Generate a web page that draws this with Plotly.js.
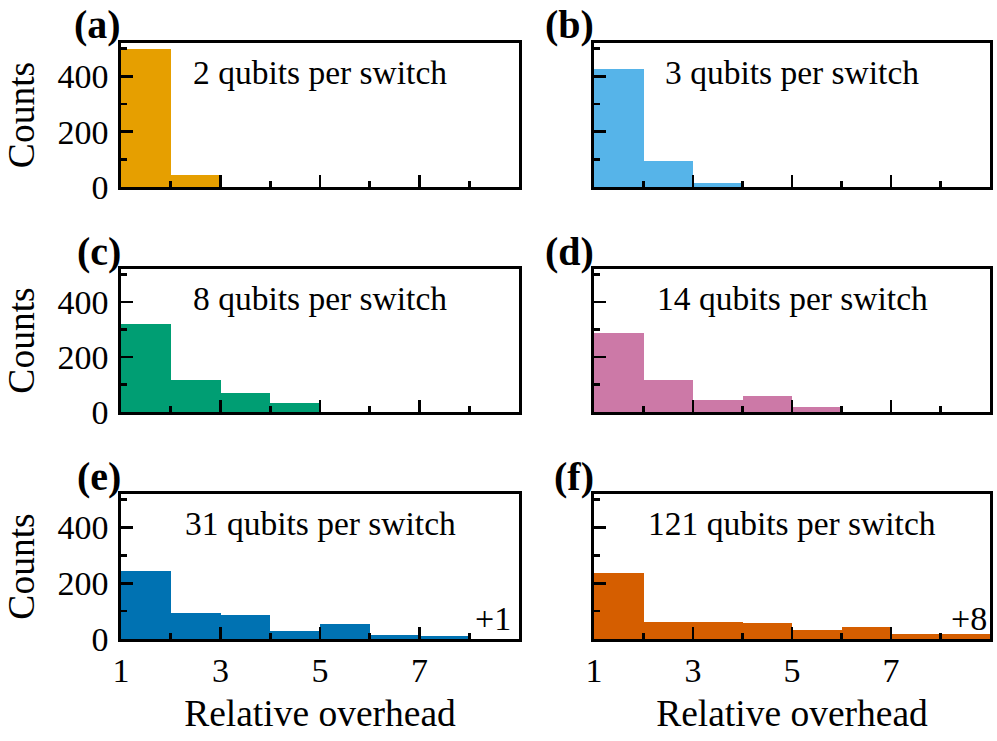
<!DOCTYPE html>
<html>
<head>
<meta charset="utf-8">
<script src="https://cdn.plot.ly/plotly-3.0.1.min.js"></script>
<style>html,body{margin:0;padding:0;background:#fff;}#chart{width:997px;height:741px;}</style>
</head>
<body>
<div id="chart"></div>
<script>
// Bin left edges (relative overhead), width 1
const binStarts = [1, 2, 3, 4, 5, 6, 7, 8];
// Counts per bin
const countsA = [497, 43];
const countsB = [426, 94, 16];
const countsC = [320, 115, 68, 32];
const countsD = [289, 115, 44, 60, 17];
const countsE = [245, 95, 85, 29, 53, 16, 12];
const countsF = [237, 62, 62, 56, 34, 42, 19, 18];
const panelLabels = ['(a)', '(b)', '(c)', '(d)', '(e)', '(f)'];
const panelTitles = ['2 qubits per switch', '3 qubits per switch', '8 qubits per switch',
                     '14 qubits per switch', '31 qubits per switch', '121 qubits per switch'];
const overflowLabels = ['', '', '', '', '+1', '+8'];
const colors = ['#E69F00', '#56B4E9', '#009E73', '#CC79A7', '#0072B2', '#D55E00'];
const xTickVals = [1, 3, 5, 7];
const yTickVals = [0, 200, 400];

const allCounts = [countsA, countsB, countsC, countsD, countsE, countsF];
const W = 997, H = 741;
const colPx = [[121, 519], [594, 990]];
const rowPx = [[43, 187], [269, 412], [494, 639]];

const FONT = '"Liberation Serif", "Times New Roman", serif';
const traces = [];
const layout = {
  width: W, height: H,
  margin: {l: 0, r: 0, t: 0, b: 0},
  paper_bgcolor: '#fff', plot_bgcolor: '#fff',
  showlegend: false,
  bargap: 0,
  font: {family: FONT, color: '#000', size: 34},
  annotations: []
};

allCounts.forEach((counts, i) => {
  const row = Math.floor(i / 2), col = i % 2;
  const n = i + 1;
  const xa = n === 1 ? 'x' : 'x' + n;
  const ya = n === 1 ? 'y' : 'y' + n;
  traces.push({
    type: 'bar',
    x: binStarts.slice(0, counts.length),
    y: counts,
    width: 1,
    offset: 0,
    xaxis: xa, yaxis: ya,
    marker: {color: colors[i], line: {width: 0}},
    hoverinfo: 'x+y'
  });
  const xd = [colPx[col][0] / W, colPx[col][1] / W];
  const yd = [1 - rowPx[row][1] / H, 1 - rowPx[row][0] / H];
  const bottomRow = row === 2, leftCol = col === 0;
  layout[n === 1 ? 'xaxis' : 'xaxis' + n] = {
    domain: xd, anchor: ya, range: [1, 9],
    showgrid: false, zeroline: false,
    showline: true, mirror: true, linecolor: '#000', linewidth: 2.6,
    ticks: 'inside', ticklen: 12, tickwidth: 2.6, tickcolor: '#000',
    tickmode: 'array', tickvals: xTickVals,
    minor: {tickmode: 'linear', tick0: 0, dtick: 1, ticks: 'inside', ticklen: 6, tickwidth: 2.6, tickcolor: '#000'},
    showticklabels: bottomRow,
    tickfont: {family: FONT, size: 34, color: '#000'},
    title: bottomRow ? {text: 'Relative overhead', font: {family: FONT, size: 37.5, color: '#000'}, standoff: 12} : {text: ''},
    fixedrange: true
  };
  layout[n === 1 ? 'yaxis' : 'yaxis' + n] = {
    domain: yd, anchor: xa, range: [0, 520],
    showgrid: false, zeroline: false,
    showline: true, mirror: true, linecolor: '#000', linewidth: 2.6,
    ticks: 'inside', ticklen: 12, tickwidth: 2.6, tickcolor: '#000',
    tickmode: 'array', tickvals: yTickVals,
    minor: {tickmode: 'linear', tick0: 0, dtick: 100, ticks: 'inside', ticklen: 6, tickwidth: 2.6, tickcolor: '#000'},
    showticklabels: leftCol,
    ticklabelstandoff: 3,
    tickfont: {family: FONT, size: 34, color: '#000'},
    title: leftCol ? {text: 'Counts', font: {family: FONT, size: 37.5, color: '#000'}, standoff: 12} : {text: ''},
    fixedrange: true
  };
  const xdom = xa + ' domain', ydom = ya + ' domain';
  layout.annotations.push({
    xref: xdom, yref: ydom, x: 0.5, y: 1, yshift: -29,
    xanchor: 'center', yanchor: 'middle', showarrow: false,
    text: panelTitles[i], font: {family: FONT, size: 33.5, color: '#000'}
  });
  layout.annotations.push({
    xref: xdom, yref: ydom, x: 0, y: 1, yshift: 18, xshift: 2,
    xanchor: 'right', yanchor: 'middle', showarrow: false,
    text: '<b>' + panelLabels[i] + '</b>', font: {family: FONT, size: 40, color: '#000'}
  });
  if (overflowLabels[i]) {
    layout.annotations.push({
      xref: xdom, yref: ydom, x: 1, y: 0, yshift: 21, xshift: col === 0 ? -6 : -1,
      xanchor: 'right', yanchor: 'middle', showarrow: false,
      text: overflowLabels[i], font: {family: FONT, size: 34, color: '#000'}
    });
  }
});

Plotly.newPlot('chart', traces, layout, {displayModeBar: false, staticPlot: true});
</script>
</body>
</html>
